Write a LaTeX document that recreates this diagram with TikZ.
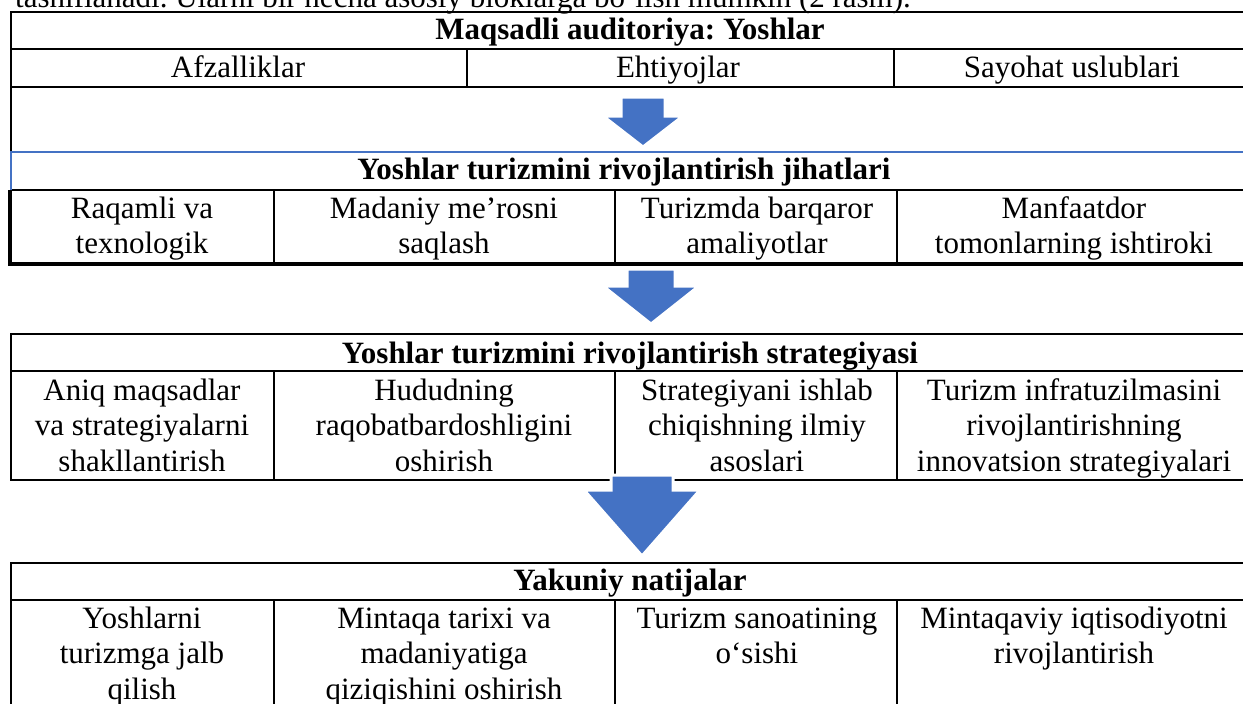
\documentclass[tikz,border=0pt]{standalone}
\usepackage{fontspec}
\setmainfont{Liberation Serif}
\definecolor{wordblue}{HTML}{4472C4}
\frenchspacing
\begin{document}
\begin{tikzpicture}[x=1pt,y=-1pt,
  cell/.style={font=\fontsize{31}{35.7}\selectfont, align=center, anchor=base, inner sep=0pt},
  head/.style={cell, font=\fontsize{31}{35.7}\selectfont\bfseries},
  rule/.style={line width=2pt},
  thickrule/.style={line width=3.5pt},
  blueline/.style={line width=2pt, draw=wordblue},
  flowarrow/.style={fill=wordblue, draw=white, line width=3pt, line join=miter}]
\useasboundingbox (0,0) rectangle (1243,704);
\clip (0,0) rectangle (1243,704);

% intro line (cut off at the top)
\node[cell, anchor=base west] (intro) at (15,7) {tasniflanadi. Ularni bir necha asosiy bloklarga bo‘lish mumkin (2 rasm).};

% ---------- table 1 ----------
\draw[rule] (10.5,12) -- (1251,12);
\draw[rule] (10.5,49) -- (1251,49);
\draw[rule] (10.5,87) -- (1251,87);
\draw[rule] (10.5,190) -- (1251,190);
\draw[thickrule] (9,264) -- (1251,264);
\draw[rule] (10.5,11) -- (10.5,152);
\draw[blueline] (11,152) -- (11,190);
\draw[blueline] (10,152) -- (1251,152);
\draw[thickrule] (10,190) -- (10,265.5);
\draw[rule] (467,49) -- (467,87);
\draw[rule] (894,49) -- (894,87);
\draw[rule] (274,190) -- (274,264);
\draw[rule] (615,190) -- (615,264);
\draw[rule] (897,190) -- (897,264);

\node[head] (t1title) at (630,39) {Maqsadli auditoriya: Yoshlar};
\node[cell] (t1a) at (238,77) {Afzalliklar};
\node[cell] (t1b) at (678,77) {Ehtiyojlar};
\node[cell] (t1c) at (1072,77) {Sayohat uslublari};
\node[head] (t1sub) at (624,179) {Yoshlar turizmini rivojlantirish jihatlari};
% multi-line cells: anchor=base is the baseline of the last line
\node[cell] (j1) at (142,253.7) {Raqamli va\\texnologik};
\node[cell] (j2) at (444,253.7) {Madaniy me’rosni\\saqlash};
\node[cell] (j3) at (757,253.7) {Turizmda barqaror\\amaliyotlar};
\node[cell] (j4) at (1074,253.7) {Manfaatdor\\tomonlarning ishtiroki};

% ---------- table 2 ----------
\draw[rule] (10.5,334) -- (1251,334);
\draw[rule] (10.5,371) -- (1251,371);
\draw[rule] (10.5,480) -- (1251,480);
\draw[rule] (10.5,333) -- (10.5,481);
\draw[rule] (274,371) -- (274,480);
\draw[rule] (615,371) -- (615,480);
\draw[rule] (897,371) -- (897,480);

\node[head] (t2title) at (630,363) {Yoshlar turizmini rivojlantirish strategiyasi};
\node[cell] (s1) at (142,471.4) {Aniq maqsadlar\\va strategiyalarni\\shakllantirish};
\node[cell] (s2) at (444,471.4) {Hududning\\raqobatbardoshligini\\oshirish};
\node[cell] (s3) at (757,471.4) {Strategiyani ishlab\\chiqishning ilmiy\\asoslari};
\node[cell] (s4) at (1074,471.4) {Turizm infratuzilmasini\\rivojlantirishning\\innovatsion strategiyalari};

% ---------- table 3 ----------
\draw[rule] (10.5,563) -- (1251,563);
\draw[rule] (10.5,600) -- (1251,600);
\draw[rule] (10.5,562) -- (10.5,710);
\draw[rule] (274,600) -- (274,710);
\draw[rule] (615,600) -- (615,710);
\draw[rule] (897,600) -- (897,710);

\node[head] (t3title) at (630,590) {Yakuniy natijalar};
\node[cell] (n1) at (142,699.4) {Yoshlarni\\turizmga jalb\\qilish};
\node[cell] (n2) at (444,699.4) {Mintaqa tarixi va\\madaniyatiga\\qiziqishini oshirish};
\node[cell] (n3) at (757,663.7) {Turizm sanoatining\\o‘sishi};
\node[cell] (n4) at (1074,663.7) {Mintaqaviy iqtisodiyotni\\rivojlantirish};

% ---------- arrows ----------
\filldraw[flowarrow] (621,97) -- (665,97) -- (665,116) -- (683,116) -- (643,147)
  -- (603,116) -- (621,116) -- cycle;
\filldraw[flowarrow] (627,269) -- (675,269) -- (675,286) -- (699,286) -- (651,324)
  -- (603,286) -- (627,286) -- cycle;
\filldraw[flowarrow] (611,475) -- (673,475) -- (673,490) -- (700,490) -- (642,556)
  -- (584,490) -- (611,490) -- cycle;
\end{tikzpicture}
\end{document}
